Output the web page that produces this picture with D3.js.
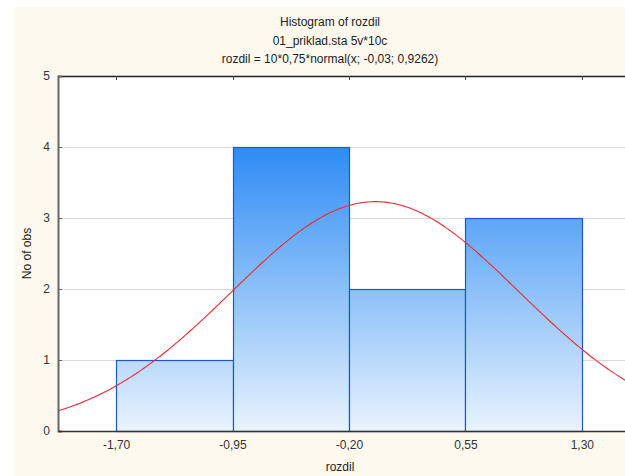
<!DOCTYPE html>
<html>
<head>
<meta charset="utf-8">
<script src="https://cdn.jsdelivr.net/npm/d3@7"></script>
<style>
  html, body { margin: 0; padding: 0; background: #fff; }
  svg { display: block; font-family: "Liberation Sans", Arial, sans-serif; }
</style>
</head>
<body>
<div id="chart"></div>
<script>
// histogram bins (edges) and counts
const binEdges = [-1.70, -0.95, -0.20, 0.55, 1.30];
const counts = [1, 4, 2, 3];
const xTickLabels = ['-1,70', '-0,95', '-0,20', '0,55', '1,30'];
const yTicks = [0, 1, 2, 3, 4, 5];

// fitted normal curve, parameters from the subtitle
const fitN = 10, fitWidth = 0.75, fitMean = -0.03, fitSd = 0.9262;

const titles = [
  'Histogram of rozdil',
  '01_priklad.sta 5v*10c',
  'rozdil = 10*0,75*normal(x; -0,03; 0,9262)'
];

const width = 625, height = 476;
const margin = { left: 58, top: 76, right: 0, bottom: 45 };

const svg = d3.select('#chart').append('svg')
  .attr('width', width)
  .attr('height', height);

// cream panel
svg.append('rect')
  .attr('x', 14).attr('y', 7)
  .attr('width', width - 14).attr('height', height - 7)
  .attr('fill', '#fef9ef');

const x = d3.scaleLinear()
  .domain([-2.074, 1.578])
  .range([margin.left, width - margin.right]);

const y = d3.scaleLinear()
  .domain([0, 5])
  .range([height - margin.bottom, margin.top]);

// plot area
svg.append('rect')
  .attr('x', margin.left).attr('y', margin.top)
  .attr('width', width - margin.left).attr('height', y(0) - margin.top)
  .attr('fill', '#fff');

const defs = svg.append('defs');
const grad = defs.append('linearGradient')
  .attr('id', 'barGrad')
  .attr('gradientUnits', 'userSpaceOnUse')
  .attr('x1', 0).attr('x2', 0)
  .attr('y1', y(4)).attr('y2', y(0));
grad.append('stop').attr('offset', '0%').attr('stop-color', '#2e8cf5');
grad.append('stop').attr('offset', '100%').attr('stop-color', '#e9f3fd');

defs.append('clipPath').attr('id', 'plotClip')
  .append('rect')
  .attr('x', margin.left).attr('y', margin.top)
  .attr('width', width - margin.left).attr('height', y(0) - margin.top);

// gridlines
svg.append('g')
  .selectAll('line')
  .data(yTicks.filter(d => d > 0 && d < 5))
  .join('line')
  .attr('x1', margin.left).attr('x2', width)
  .attr('y1', d => Math.round(y(d)) + 0.5)
  .attr('y2', d => Math.round(y(d)) + 0.5)
  .attr('stroke', '#d9d9d9')
  .attr('stroke-width', 1);

// bars
svg.append('g')
  .selectAll('rect')
  .data(counts)
  .join('rect')
  .attr('x', (d, i) => Math.round(x(binEdges[i])) + 0.5)
  .attr('y', d => Math.round(y(d)) + 0.5)
  .attr('width', (d, i) => Math.round(x(binEdges[i + 1])) - Math.round(x(binEdges[i])))
  .attr('height', d => Math.round(y(0)) - Math.round(y(d)))
  .attr('fill', 'url(#barGrad)')
  .attr('stroke', '#1f56cc')
  .attr('stroke-width', 1.2);

// normal curve
const curveXs = d3.range(0, 301).map(i => x.domain()[0] + i * (x.domain()[1] - x.domain()[0]) / 300);
const normal = v => fitN * fitWidth * Math.exp(-0.5 * ((v - fitMean) / fitSd) ** 2) / (fitSd * Math.sqrt(2 * Math.PI));
svg.append('path')
  .datum(curveXs)
  .attr('clip-path', 'url(#plotClip)')
  .attr('fill', 'none')
  .attr('stroke', '#ec2a32')
  .attr('stroke-width', 1.1)
  .attr('d', d3.line().x(d => x(d)).y(d => y(normal(d))));

// frame: top line with inward ticks, left axis, bottom axis
svg.append('line')
  .attr('x1', margin.left).attr('x2', width)
  .attr('y1', margin.top + 0.5).attr('y2', margin.top + 0.5)
  .attr('stroke', '#222').attr('stroke-width', 1.5);
svg.append('g')
  .selectAll('line')
  .data(binEdges)
  .join('line')
  .attr('x1', d => Math.round(x(d)) + 0.5).attr('x2', d => Math.round(x(d)) + 0.5)
  .attr('y1', margin.top).attr('y2', margin.top + 4)
  .attr('stroke', '#444');

const yAxis = svg.append('g')
  .attr('transform', `translate(${margin.left},0)`)
  .call(d3.axisLeft(y).tickValues(yTicks).tickSize(-4).tickPadding(8).tickFormat(d3.format('d')));
yAxis.select('.domain').attr('stroke', '#666').attr('stroke-width', 2);
yAxis.selectAll('.tick line').attr('stroke', '#666');
yAxis.selectAll('text').attr('font-size', 12).attr('fill', '#333')
  .attr('font-family', '"Liberation Sans", Arial, sans-serif');

const xAxis = svg.append('g')
  .attr('transform', `translate(0,${y(0)})`)
  .call(d3.axisBottom(x).tickValues(binEdges).tickSize(0).tickPadding(9)
    .tickFormat((d, i) => xTickLabels[i]));
xAxis.select('.domain').attr('stroke', '#333').attr('stroke-width', 1.5);
xAxis.selectAll('text').attr('font-size', 12).attr('fill', '#333')
  .attr('font-family', '"Liberation Sans", Arial, sans-serif');

// titles
svg.append('g')
  .selectAll('text')
  .data(titles)
  .join('text')
  .attr('x', 330)
  .attr('y', (d, i) => 26 + i * 18.5)
  .attr('text-anchor', 'middle')
  .attr('font-size', 12)
  .attr('fill', '#222')
  .text(d => d);

// axis titles
svg.append('text')
  .attr('x', 340).attr('y', 471)
  .attr('text-anchor', 'middle')
  .attr('font-size', 12).attr('fill', '#222')
  .text('rozdil');

svg.append('text')
  .attr('transform', `translate(31,${(y(0) + y(5)) / 2}) rotate(-90)`)
  .attr('text-anchor', 'middle')
  .attr('font-size', 12).attr('fill', '#222')
  .text('No of obs');
</script>
</body>
</html>
